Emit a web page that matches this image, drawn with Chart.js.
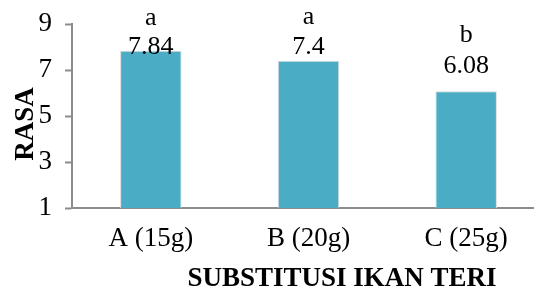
<!doctype html>
<html>
<head>
  <meta charset="utf-8" />
  <title>Rasa</title>
  <style>
    html, body { margin:0; padding:0; background:#fff; overflow:hidden; }
    #wrap { width:545px; height:288px; }
  </style>
  <script src="https://cdn.jsdelivr.net/npm/chart.js"></script>
</head>
<body>
<div id="wrap"><canvas id="chart" width="545" height="288"></canvas></div>
<script>
// data
const categories = ['A (15g)', 'B (20g)', 'C (25g)'];
const rasa = [7.84, 7.4, 6.08];
const letters = ['a', 'a', 'b'];
const yTicks = [1, 3, 5, 7, 9];

// label placement (px above bar top for the number baseline)
const numberLift = [-3, 7, 18];
const letterGap = [29, 30, 31];
const FONT = '"Liberation Serif", "Times New Roman", serif';

const labelPlugin = {
  id: 'labels',
  afterDatasetsDraw(chart) {
    const ctx = chart.ctx;
    const meta = chart.getDatasetMeta(0);
    ctx.save();
    ctx.fillStyle = '#000';
    ctx.textAlign = 'center';
    ctx.textBaseline = 'alphabetic';
    ctx.font = '26px ' + FONT;
    meta.data.forEach((bar, i) => {
      const base = bar.y - numberLift[i];
      ctx.fillText(String(rasa[i]), bar.x, base);
      ctx.fillText(letters[i], bar.x, base - letterGap[i]);
    });
    // axis titles
    ctx.font = 'bold 27px ' + FONT;
    ctx.fillText('SUBSTITUSI IKAN TERI', 342, 286);
    ctx.translate(33, 124);
    ctx.rotate(-Math.PI / 2);
    ctx.fillText('RASA', 0, 0);
    ctx.restore();
  }
};

new Chart(document.getElementById('chart'), {
  type: 'bar',
  data: {
    labels: categories,
    datasets: [{
      data: rasa,
      backgroundColor: '#4bacc6',
      borderColor: '#dcdcdc',
      borderWidth: 1,
      categoryPercentage: 1,
      barPercentage: 0.39
    }]
  },
  options: {
    responsive: false,
    animation: false,
    layout: { padding: { top: 24, right: 0, left: 0, bottom: 0 } },
    plugins: { legend: { display: false }, tooltip: { enabled: false } },
    scales: {
      x: {
        grid: { display: false, drawTicks: false },
        border: { display: true, color: '#8c8c8c', width: 2 },
        ticks: { color: '#000', font: { family: FONT, size: 27 }, padding: 15 },
        afterFit(s) { s.height = 80; s.paddingLeft = 0; s.paddingRight = 0; }
      },
      y: {
        min: 1, max: 9,
        afterBuildTicks(s) { s.ticks = yTicks.map(v => ({ value: v })); },
        grid: { drawOnChartArea: false, tickLength: 7, color: '#8c8c8c', tickWidth: 2 },
        border: { display: true, color: '#8c8c8c', width: 2 },
        ticks: { color: '#000', font: { family: FONT, size: 27 }, padding: 13 },
        afterFit(s) { s.width = 72; s.paddingTop = 0; s.paddingBottom = 0; }
      }
    }
  },
  plugins: [labelPlugin]
});
</script>
</body>
</html>
